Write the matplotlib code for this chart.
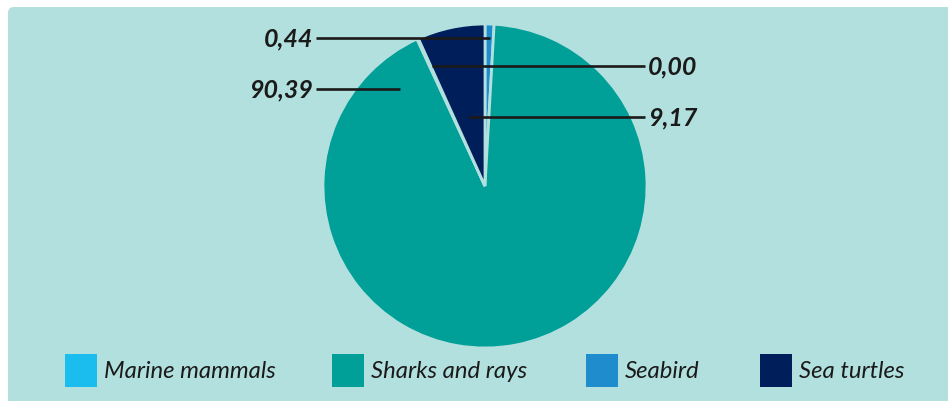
import matplotlib
matplotlib.use("Agg")
from matplotlib import pyplot as plt
from matplotlib.patches import Rectangle, FancyBboxPatch

# data
groups = ["Seabird", "Sharks and rays", "Marine mammals", "Sea turtles"]
labels = ["0,44", "90,39", "0,00", "9,17"]
# slice sizes as drawn in the picture
shares = [0.9, 92.2, 0.15, 6.75]
legend_order = ["Marine mammals", "Sharks and rays", "Seabird", "Sea turtles"]

colors = {"Marine mammals": "#1bbcee", "Sharks and rays": "#009f98",
          "Seabird": "#1f8ccd", "Sea turtles": "#001e5a"}
bg = "#b2e0de"

W, H = 948, 401
fig = plt.figure(figsize=(W / 100, H / 100), dpi=100)
fig.patch.set_facecolor("white")
ax = fig.add_axes([0, 0, 1, 1])

def Y(y):
    return H - y

# background panel
ax.add_patch(FancyBboxPatch((8, Y(H + 10)), W, H + 3, boxstyle="round,pad=0,rounding_size=6",
                            facecolor=bg, edgecolor="none", zorder=0))

cx, cy, r = 485, 186, 162
ax.pie(shares, colors=[colors[g] for g in groups], startangle=90, counterclock=False,
       center=(cx, Y(cy)), radius=r, frame=True,
       wedgeprops=dict(edgecolor=bg, linewidth=2.0))

# leader lines and value labels (pixel positions)
leaders = {
    "Seabird": (316, 490, 38, "left"),
    "Sharks and rays": (316, 400, 89, "left"),
    "Marine mammals": (432, 645, 66, "right"),
    "Sea turtles": (468, 645, 117, "right"),
}
for g, lab in zip(groups, labels):
    x0, x1, yy, side = leaders[g]
    ax.plot([x0, x1], [Y(yy), Y(yy)], color="#1a1a1a", lw=1.9, solid_capstyle="butt", zorder=5)
    if side == "left":
        ax.text(x0 - 3, Y(yy + 1), lab, ha="right", va="center", fontsize=18,
                fontfamily="Lato", fontstyle="italic", fontweight="bold", color="#1a1a1a")
    else:
        ax.text(x1 + 3, Y(yy + 1), lab, ha="left", va="center", fontsize=18,
                fontfamily="Lato", fontstyle="italic", fontweight="bold", color="#1a1a1a")

# legend
leg_x = [65, 332, 586, 760]
for g, lx in zip(legend_order, leg_x):
    ax.add_patch(Rectangle((lx, Y(387)), 32, 33, facecolor=colors[g], edgecolor="none", zorder=5))
    ax.text(lx + 39, Y(372), g, ha="left", va="center", fontsize=17.2,
            fontfamily="Lato", fontstyle="italic", color="#1a1a1a")

ax.set_xlim(0, W)
ax.set_ylim(0, H)
ax.set_aspect("auto")
ax.axis("off")

fig.savefig("out.png", dpi=100, facecolor="white")
